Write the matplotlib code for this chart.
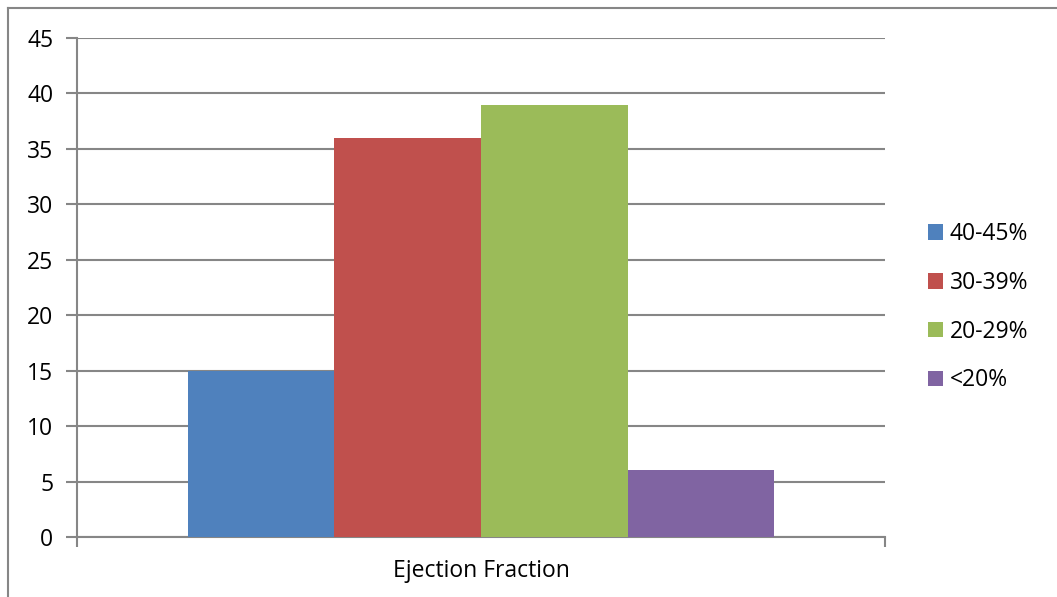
import numpy as np
import matplotlib
matplotlib.use("Agg")
import matplotlib.pyplot as plt
from matplotlib.lines import Line2D
from matplotlib.patches import Patch

CATEGORY = "Ejection Fraction"
SERIES = ["40-45%", "30-39%", "20-29%", "<20%"]
VALUES = [15, 36, 39, 6]
COLORS = ["#4F81BD", "#C0504D", "#9BBB59", "#8064A2"]
YTICKS = list(range(0, 50, 5))

plt.rcParams["font.family"] = ["Open Sans", "DejaVu Sans"]
W, H = 1057, 597
FS = 16.5
fig = plt.figure(figsize=(W / 100, H / 100), dpi=100)
ax = fig.add_axes([77 / W, (H - 537) / H, (885 - 77) / W, (537 - 38) / H])

grid_c = "#868686"
bw = 0.1816
for i, (lab, v, c) in enumerate(zip(SERIES, VALUES, COLORS)):
    ax.bar((i - 1.5) * bw, v, width=bw, color=c, label=lab, zorder=3)

ax.set_xlim(-0.5, 0.5)
ax.set_ylim(0, 45)
ax.set_yticks(YTICKS)
ax.set_yticklabels([str(t) for t in YTICKS], fontsize=FS)
ax.yaxis.grid(True, color=grid_c, linewidth=1.5, zorder=0)
ax.set_xticks([-0.5, 0.5])
ax.set_xticklabels(["", ""])
ax.set_xticks([0], minor=True)
ax.set_xticklabels([CATEGORY], minor=True, fontsize=FS)
ax.tick_params(axis="x", which="minor", length=0, pad=16)
ax.tick_params(axis="x", which="major", length=7, width=1.5, color=grid_c, direction="out")
ax.tick_params(axis="y", length=8, width=1.5, color=grid_c, direction="out", pad=9)
for s in ["top", "right"]:
    ax.spines[s].set_visible(False)
for s in ["left", "bottom"]:
    ax.spines[s].set_color(grid_c)
    ax.spines[s].set_linewidth(1.5)

handles = [Patch(facecolor=c, edgecolor="none") for c in COLORS]
fig.legend(handles, SERIES, loc="upper left", bbox_to_anchor=(919 / W, 1 - 213 / H),
           frameon=False, fontsize=FS, handlelength=0.65, handleheight=0.65,
           handletextpad=0.3, labelspacing=1.08, borderaxespad=0)

# outer chart border (only left and top edges fall inside the image)
fig.add_artist(Line2D([8 / W, 8 / W], [0, 1 - 8 / H], color=grid_c, linewidth=1.5, transform=fig.transFigure))
fig.add_artist(Line2D([8 / W, 1], [1 - 8 / H, 1 - 8 / H], color=grid_c, linewidth=1.5, transform=fig.transFigure))

fig.savefig("out.png", dpi=100)
